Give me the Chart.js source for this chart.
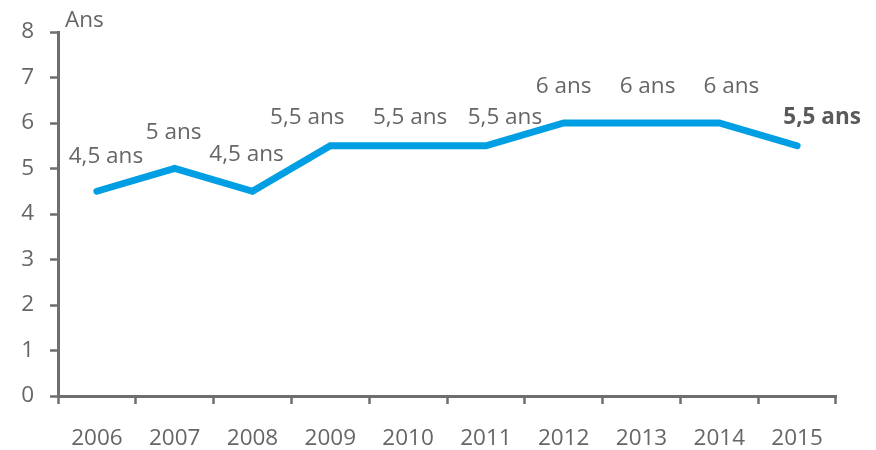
<!DOCTYPE html>
<html>
<head>
<meta charset="utf-8">
<script src="https://cdn.jsdelivr.net/npm/chart.js@4"></script>
<style>
html,body{margin:0;padding:0;background:#fff;}
#wrap{width:876px;height:450px;position:relative;}
</style>
</head>
<body>
<div id="wrap"><canvas id="c" width="876" height="450"></canvas></div>
<script>
const years = ['2006','2007','2008','2009','2010','2011','2012','2013','2014','2015'];
const ages = [4.5, 5, 4.5, 5.5, 5.5, 5.5, 6, 6, 6, 5.5];
const yTicks = [0, 1, 2, 3, 4, 5, 6, 7, 8];
const unitLabel = 'Ans';

const FONT = '"Open Sans", sans-serif';
const GREY = '#666666';
const AXIS = '#6e6e6e';

// label offsets (pixels) relative to each point: [dx, dyBaseline]
const labelOffsets = [[9,-28],[-1,-30],[-6,-30],[-23,-22],[2,-22],[19,-22],[0,-30],[6,-30],[12,-30],[25,-22]];

function fmt(v){ return String(v).replace('.', ',') + ' ans'; }

const labelPlugin = {
  id: 'labels',
  afterDatasetsDraw(chart){
    const ctx = chart.ctx;
    const meta = chart.getDatasetMeta(0);
    ctx.save();
    ctx.textAlign = 'center';
    ctx.textBaseline = 'alphabetic';
    meta.data.forEach((pt, i) => {
      const last = i === meta.data.length - 1;
      ctx.font = (last ? 'bold ' : '') + '22.5px ' + FONT;
      ctx.fillStyle = last ? '#595959' : GREY;
      const o = labelOffsets[i];
      ctx.fillText(fmt(ages[i]), pt.x + o[0], pt.y + o[1]);
    });
    // unit label
    ctx.font = '22.5px ' + FONT;
    ctx.fillStyle = GREY;
    ctx.textAlign = 'left';
    ctx.fillText(unitLabel, chart.chartArea.left + 7, chart.chartArea.top - 5);
    ctx.restore();
  }
};

new Chart(document.getElementById('c'), {
  type: 'line',
  data: {
    labels: years,
    datasets: [{
      data: ages,
      borderColor: '#009fe3',
      borderWidth: 7,
      borderCapStyle: 'round',
      borderJoinStyle: 'miter',
      pointRadius: 0,
      pointHoverRadius: 0,
      tension: 0,
      fill: false
    }]
  },
  options: {
    responsive: false,
    animation: false,
    devicePixelRatio: 1,
    layout: { padding: { top: 32, right: 40, left: 0, bottom: 0 } },
    plugins: { legend: { display: false }, tooltip: { enabled: false } },
    scales: {
      x: {
        type: 'category',
        offset: true,
        grid: {
          offset: true,
          drawOnChartArea: false,
          drawTicks: true,
          tickLength: 8,
          tickColor: AXIS,
          tickWidth: 2.5
        },
        border: { display: true, color: AXIS, width: 3 },
        ticks: { color: GREY, font: { family: FONT, size: 22.5 }, padding: 21, maxRotation: 0, autoSkip: false },
        afterFit(s){ s.height = 54; }
      },
      y: {
        min: 0, max: 8,
        afterBuildTicks(s){ s.ticks = yTicks.map(v => ({ value: v })); },
        grid: {
          drawOnChartArea: false,
          drawTicks: true,
          tickLength: 8,
          tickColor: AXIS,
          tickWidth: 2.5
        },
        border: { display: true, color: AXIS, width: 3 },
        ticks: { color: GREY, font: { family: FONT, size: 22.5 }, padding: 16 },
        afterFit(s){ s.width = 58; }
      }
    }
  },
  plugins: [labelPlugin]
});
</script>
</body>
</html>
